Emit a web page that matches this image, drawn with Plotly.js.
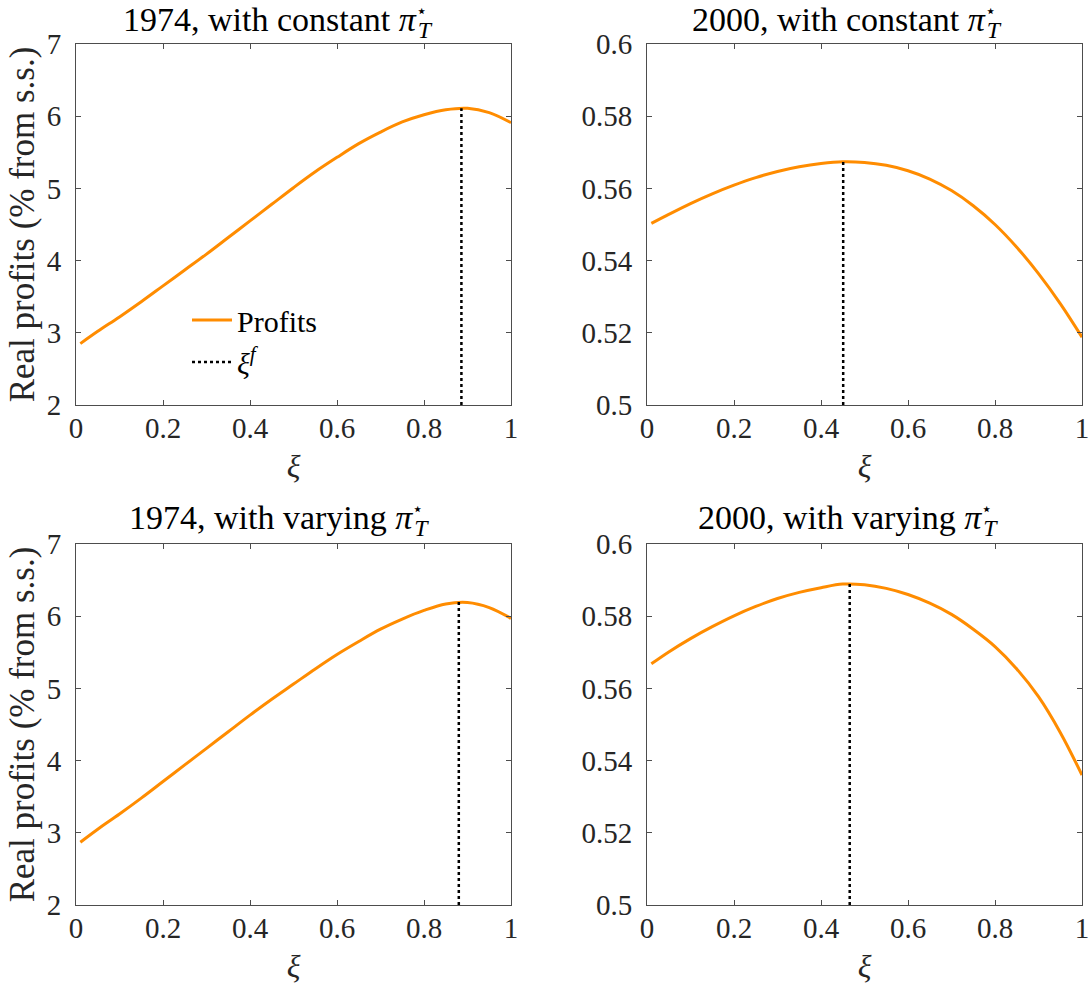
<!DOCTYPE html>
<html><head><meta charset="utf-8">
<script src="https://cdn.plot.ly/plotly-3.0.1.min.js"></script>
<style>body{margin:0;background:#fff}</style>
</head><body>
<div id="chart" style="width:1091px;height:990px"></div>
<script>
// ---- data ----
const xi = [0.01,0.05,0.10,0.15,0.20,0.25,0.30,0.35,0.40,0.45,0.50,0.55,0.60,0.65,0.70,0.75,0.80,0.85,0.90,0.95,1.00];
const profits1974Const = [2.85,3.02,3.22,3.43,3.65,3.87,4.09,4.32,4.55,4.78,5.01,5.23,5.43,5.62,5.78,5.92,6.02,6.09,6.11,6.05,5.91];
const profits2000Const = [0.5503,0.5528,0.5558,0.5585,0.5609,0.5630,0.5647,0.5660,0.5669,0.5674,0.5672,0.5664,0.5649,0.5626,0.5594,0.5552,0.5500,0.5437,0.5364,0.5281,0.5188];
const profits1974Vary  = [2.87,3.05,3.26,3.48,3.71,3.94,4.17,4.40,4.63,4.85,5.06,5.27,5.47,5.65,5.82,5.96,6.08,6.17,6.19,6.12,5.97];
const profits2000Vary  = [0.5668,0.5701,0.5738,0.5771,0.5801,0.5827,0.5849,0.5866,0.5879,0.5889,0.5887,0.5877,0.5860,0.5836,0.5805,0.5764,0.5716,0.5654,0.5577,0.5478,0.5360];
const xiF      = [0.886, 0.451, 0.880, 0.466];
const xiFPeak  = [6.11, 0.5674, 6.20, 0.5890];
const xiFBase  = [2, 0.5, 2, 0.5];
const xTickVals = [0,0.2,0.4,0.6,0.8,1];
const xTickText = ['0','0.2','0.4','0.6','0.8','1'];
const yTickValsLeft = [2,3,4,5,6,7];
const yTickTextLeft = ['2','3','4','5','6','7'];
const yTickValsRight = [0.5,0.52,0.54,0.56,0.58,0.6];
const yTickTextRight = ['0.5','0.52','0.54','0.56','0.58','0.6'];
const panelTitles = ['1974, with constant ','2000, with constant ','1974, with varying ','2000, with varying '];
const seriesNames = ['Profits','<i>ξ</i><sup><i>f</i></sup>'];
const yTitle = 'Real profits (% from s.s.)';

// ---- layout geometry (pixels) ----
const W = 1091, H = 990;
const boxes = [[76,511,44,405],[647,1082,44,405],[76,511,544,905],[647,1082,544,905]];
const titleCenters = [[278,22],[847,22],[279,520],[848,520]];
const series = [profits1974Const, profits2000Const, profits1974Vary, profits2000Vary];
const FONT = 'Liberation Serif';
const ORANGE = '#FF8C00';
const AX = '#4d4d4d';
const TXT = '#262626';

const traces = [];
const layout = {
  width: W, height: H,
  margin: {l:0,r:0,t:0,b:0},
  paper_bgcolor:'#fff', plot_bgcolor:'#fff',
  font: {family: FONT, size: 29, color: TXT},
  showlegend: true,
  legend: {x: 187/W, y: 1-294/H, xanchor:'left', yanchor:'top', bgcolor:'rgba(0,0,0,0)',
           font:{family:FONT, size:30, color:'#000'}, tracegroupgap:0, itemwidth:40},
  annotations: []
};

function axisBase() {
  return {showgrid:false, zeroline:false, showline:true, linecolor:AX, linewidth:1,
          mirror:'ticks', ticks:'inside', ticklen:5, tickwidth:1, tickcolor:AX,
          tickfont:{family:FONT, size:29, color:TXT}, fixedrange:true};
}

for (let i=0;i<4;i++){
  const n = i===0 ? '' : String(i+1);
  const [x0,x1,y0,y1] = boxes[i];
  const xa = Object.assign(axisBase(), {
    domain:[x0/W, x1/W], anchor:'y'+n, range:[0,1], tickmode:'array',
    tickvals:xTickVals, ticktext:xTickText, ticklabelstandoff:-3,
    title:{text:'<i>ξ</i>', font:{family:FONT,size:32,color:TXT}, standoff:11}
  });
  const right = (i%2===1);
  const ya = Object.assign(axisBase(), {
    domain:[1-y1/H, 1-y0/H], anchor:'x'+n,
    range: right ? [0.5,0.6] : [2,7], tickmode:'array',
    tickvals: right ? yTickValsRight : yTickValsLeft,
    ticktext: right ? yTickTextRight : yTickTextLeft, ticklabelstandoff:8
  });
  if (!right) ya.title = {text:yTitle, font:{family:FONT,size:35,color:TXT}, standoff:1};
  layout['xaxis'+n] = xa;
  layout['yaxis'+n] = ya;

  traces.push({x:xi, y:series[i], xaxis:'x'+n, yaxis:'y'+n, type:'scatter', mode:'lines',
    line:{color:ORANGE, width:3, shape:'spline', smoothing:1}, name:seriesNames[0],
    showlegend: i===0, legendgroup:'p', hoverinfo:'skip'});
  traces.push({x:[xiF[i],xiF[i]], y:[xiFBase[i], xiFPeak[i]], xaxis:'x'+n, yaxis:'y'+n,
    type:'scatter', mode:'lines', line:{color:'#000', width:2.5, dash:'dot'},
    name:seriesNames[1], showlegend: i===0, legendgroup:'f', hoverinfo:'skip'});

  // panel title: π with stacked ⋆ superscript and T subscript
  const [cx, cy] = titleCenters[i];
  layout.annotations.push({xref:'paper', yref:'paper', x:cx/W, y:1-cy/H, xanchor:'center', yanchor:'middle',
    text: panelTitles[i] + '<i>π</i><sup><span style="font-size:18px;letter-spacing:-9px">⋆</span></sup><sub><i>T</i></sub>',
    showarrow:false, font:{family:FONT, size:34, color:'#000'}, borderpad:0});
}

Plotly.newPlot('chart', traces, layout, {displayModeBar:false, staticPlot:true});
</script>
</body></html>
